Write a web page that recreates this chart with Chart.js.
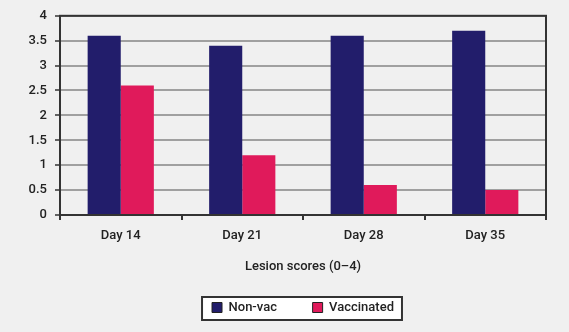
<!DOCTYPE html>
<html>
<head>
<meta charset="utf-8">
<script src="https://cdn.jsdelivr.net/npm/chart.js@4"></script>
<style>
  html, body { margin: 0; padding: 0; background: #f0f0f0; }
  #wrap { width: 569px; height: 332px; }
</style>
</head>
<body>
<div id="wrap"><canvas id="lesionChart" width="569" height="332"></canvas></div>
<script>
const days = ["Day 14", "Day 21", "Day 28", "Day 35"];
const nonVac = [3.6, 3.4, 3.6, 3.7];
const vaccinated = [2.6, 1.2, 0.6, 0.5];
const yTicks = [0, 0.5, 1, 1.5, 2, 2.5, 3, 3.5, 4];

const FONT = "Roboto, 'DejaVu Sans', sans-serif";

// white framed box behind the legend, plus a dark frame round the plot
const frames = {
  id: "frames",
  beforeDraw(chart) {
    const boxes = chart.legend.legendHitBoxes;
    if (!boxes || !boxes.length) return;
    const ctx = chart.ctx;
    const left = Math.min(...boxes.map(b => b.left)) - 10;
    const right = Math.max(...boxes.map(b => b.left + b.width)) + 8;
    const top = boxes[0].top - 4;
    const bottom = boxes[0].top + boxes[0].height + 6;
    ctx.save();
    ctx.fillStyle = "#ffffff";
    ctx.fillRect(left, top, right - left, bottom - top);
    ctx.strokeStyle = "#333333";
    ctx.lineWidth = 2;
    ctx.strokeRect(left, top, right - left, bottom - top);
    ctx.restore();
  },
  afterDatasetsDraw(chart) {
    const a = chart.chartArea;
    const ctx = chart.ctx;
    ctx.save();
    ctx.strokeStyle = "#333333";
    ctx.lineWidth = 2;
    ctx.strokeRect(a.left, a.top, a.right - a.left, a.bottom - a.top);
    ctx.restore();
  }
};

new Chart(document.getElementById("lesionChart").getContext("2d"), {
  type: "bar",
  data: {
    labels: days,
    datasets: [
      { label: "Non-vac", data: nonVac, backgroundColor: "#221d6b", borderWidth: 0 },
      { label: "Vaccinated", data: vaccinated, backgroundColor: "#e01a5b", borderWidth: 0 }
    ]
  },
  options: {
    responsive: false,
    animation: false,
    devicePixelRatio: 1,
    layout: { padding: { left: 0, right: 23, top: 11, bottom: 8 } },
    plugins: {
      tooltip: { enabled: false },
      legend: {
        position: "bottom",
        fullSize: false,
        labels: {
          boxWidth: 10, boxHeight: 10, padding: 26,
          color: "#222", font: { family: FONT, size: 13, weight: 500 },
          generateLabels(chart) {
            const n = chart.data.datasets.length;
            return chart.data.datasets.map((ds, i) => ({
              // a little extra room after every entry but the last
              text: i < n - 1 ? ds.label + "   " : ds.label,
              fillStyle: ds.backgroundColor, strokeStyle: "#222",
              lineWidth: 1, datasetIndex: i, fontColor: "#222"
            }));
          }
        }
      }
    },
    datasets: { bar: { categoryPercentage: 0.545, barPercentage: 1.0 } },
    scales: {
      x: {
        grid: { display: true, drawOnChartArea: false, drawTicks: true, tickLength: 5, color: "#333", lineWidth: 2 },
        border: { color: "#333", width: 2 },
        ticks: { color: "#222", font: { family: FONT, size: 13, weight: 500 }, padding: 8 },
        title: { display: true, text: "Lesion scores (0–4)", color: "#222", font: { family: FONT, size: 13, weight: 500 }, padding: { top: 8, bottom: 0 } },
        afterFit(scale) { scale.height = 60; }
      },
      y: {
        min: 0, max: 4,
        afterBuildTicks(scale) { scale.ticks = yTicks.map(v => ({ value: v })); },
        grid: { color: "#a0a0a0", lineWidth: 2, tickLength: 5, tickColor: "#333", tickWidth: 1.5 },
        border: { color: "#333", width: 2 },
        ticks: {
          color: "#222", font: { family: FONT, size: 13, weight: 500 }, padding: 8,
          callback: v => String(v)
        },
        afterFit(scale) { scale.width = 60; }
      }
    }
  },
  plugins: [frames]
});
</script>
</body>
</html>
